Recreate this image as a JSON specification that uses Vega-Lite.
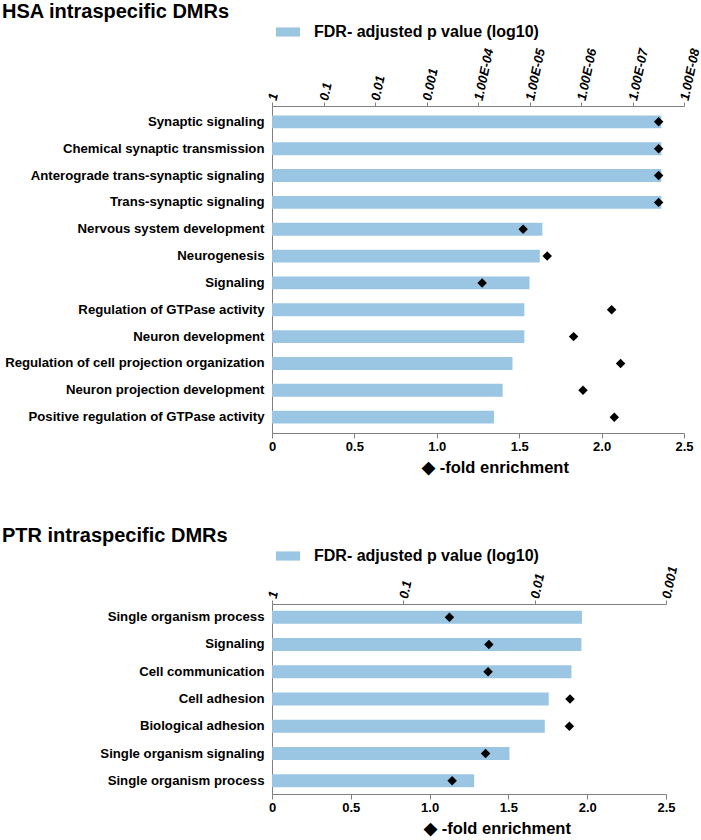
{
  "$schema": "https://vega.github.io/schema/vega-lite/v6.json",
  "padding": {"left": 2, "top": 2, "right": 0, "bottom": 0},
  "config": {
    "font": "Liberation Sans",
    "view": {"stroke": null},
    "axis": {"domainColor": "#808080", "tickColor": "#808080", "grid": false, "labelColor": "#000", "labelFont": "Liberation Sans", "titleFont": "Liberation Sans", "titleColor": "#000"},
    "concat": {"spacing": 50}
  },
  "datasets": {
    "hsa": [
      {"k": "01|Synaptic signaling", "nlp": 7.56, "fold": 2.346},
      {"k": "02|Chemical synaptic transmission", "nlp": 7.56, "fold": 2.346},
      {"k": "03|Anterograde trans-synaptic signaling", "nlp": 7.56, "fold": 2.346},
      {"k": "04|Trans-synaptic signaling", "nlp": 7.56, "fold": 2.346},
      {"k": "05|Nervous system development", "nlp": 5.25, "fold": 1.524},
      {"k": "06|Neurogenesis", "nlp": 5.2, "fold": 1.67},
      {"k": "07|Signaling", "nlp": 5.0, "fold": 1.275},
      {"k": "08|Regulation of GTPase activity", "nlp": 4.9, "fold": 2.061},
      {"k": "09|Neuron development", "nlp": 4.9, "fold": 1.83},
      {"k": "10|Regulation of cell projection organization", "nlp": 4.67, "fold": 2.115},
      {"k": "11|Neuron projection development", "nlp": 4.48, "fold": 1.887},
      {"k": "12|Positive regulation of GTPase activity", "nlp": 4.31, "fold": 2.077}
    ],
    "ptr": [
      {"k": "1|Single organism process", "nlp": 2.36, "fold": 1.126},
      {"k": "2|Signaling", "nlp": 2.356, "fold": 1.376},
      {"k": "3|Cell communication", "nlp": 2.28, "fold": 1.371},
      {"k": "4|Cell adhesion", "nlp": 2.107, "fold": 1.891},
      {"k": "5|Biological adhesion", "nlp": 2.077, "fold": 1.887},
      {"k": "6|Single organism signaling", "nlp": 1.808, "fold": 1.355},
      {"k": "7|Single organism process", "nlp": 1.539, "fold": 1.143}
    ]
  },
  "vconcat": [
    {
      "title": {"text": "HSA intraspecific DMRs", "anchor": "start", "frame": "group", "dx": -270, "fontSize": 20, "fontWeight": "bold", "color": "#000", "offset": 2},
      "width": 412,
      "height": 327,
      "data": {"name": "hsa"},
      "encoding": {
        "y": {"field": "k", "type": "nominal", "sort": null,
          "scale": {"paddingInner": 0.52, "paddingOuter": 0.35},
          "axis": {"title": null, "labelExpr": "split(datum.label,'|')[1]", "ticks": false, "labelFontSize": 13.2, "labelFontWeight": "bold", "labelPadding": 8, "labelLimit": 300, "minExtent": 270}}
      },
      "layer": [
        {
          "mark": {"type": "bar"},
          "encoding": {
            "x": {"field": "nlp", "type": "quantitative", "scale": {"domain": [0, 8], "nice": false},
              "axis": {"orient": "top", "title": null, "values": [0, 1, 2, 3, 4, 5, 6, 7, 8],
                "labelExpr": "['1','0.1','0.01','0.001','1.00E-04','1.00E-05','1.00E-06','1.00E-07','1.00E-08'][datum.value]",
                "labelAngle": -78, "labelAlign": "left", "labelBaseline": "middle", "labelFontStyle": "italic", "labelFontWeight": "bold", "labelFontSize": 13, "tickSize": 4, "labelPadding": 2, "labelFlush": false, "labelOverlap": false}},
            "color": {"datum": "FDR- adjusted p value (log10)", "type": "nominal", "scale": {"range": ["#9ac6e3"]},
              "legend": {"orient": "none", "legendX": 8, "legendY": -82, "title": null, "labelFontSize": 16, "labelFontWeight": "bold", "labelLimit": 400, "labelColor": "#000", "symbolType": "M-1.7,-0.65H1.7V0.65H-1.7Z", "symbolSize": 200, "symbolStrokeWidth": 0, "labelOffset": 18,
                "encode": {"symbols": {"update": {"fill": {"value": "#7dbcd9"}}}}}}
          }
        },
        {
          "mark": {"type": "point", "shape": "diamond", "filled": true, "color": "#000", "size": 90, "opacity": 1},
          "encoding": {
            "x": {"field": "fold", "type": "quantitative", "scale": {"domain": [0, 2.5], "nice": false},
              "axis": {"orient": "bottom", "title": "◆ -fold enrichment", "values": [0, 0.5, 1, 1.5, 2, 2.5],
                "labelExpr": "datum.value == 0 ? '0' : format(datum.value, '.1f')", "labelFontSize": 13, "labelFontWeight": "bold", "tickSize": 5, "labelFlush": false, "titleFontSize": 16.5, "titleFontWeight": "bold", "titlePadding": 6, "titleX": 223, "titleAlign": "center"}}
          }
        }
      ],
      "resolve": {"scale": {"x": "independent"}, "axis": {"x": "independent"}}
    },
    {
      "title": {"text": "PTR intraspecific DMRs", "anchor": "start", "frame": "group", "dx": -270, "fontSize": 20, "fontWeight": "bold", "color": "#000", "offset": 2},
      "width": 394,
      "height": 190,
      "data": {"name": "ptr"},
      "encoding": {
        "y": {"field": "k", "type": "nominal", "sort": null,
          "scale": {"paddingInner": 0.52, "paddingOuter": 0.245},
          "axis": {"title": null, "labelExpr": "split(datum.label,'|')[1]", "ticks": false, "labelFontSize": 13.2, "labelFontWeight": "bold", "labelPadding": 8, "labelLimit": 300, "minExtent": 270}}
      },
      "layer": [
        {
          "mark": {"type": "bar"},
          "encoding": {
            "x": {"field": "nlp", "type": "quantitative", "scale": {"domain": [0, 3], "nice": false},
              "axis": {"orient": "top", "title": null, "values": [0, 1, 2, 3],
                "labelExpr": "['1','0.1','0.01','0.001'][datum.value]",
                "labelAngle": -78, "labelAlign": "left", "labelBaseline": "middle", "labelFontStyle": "italic", "labelFontWeight": "bold", "labelFontSize": 13, "tickSize": 4, "labelPadding": 2, "labelFlush": false, "labelOverlap": false}},
            "color": {"datum": "FDR- adjusted p value (log10)", "type": "nominal", "scale": {"range": ["#9ac6e3"]},
              "legend": {"orient": "none", "legendX": 8, "legendY": -56, "title": null, "labelFontSize": 16, "labelFontWeight": "bold", "labelLimit": 400, "labelColor": "#000", "symbolType": "M-1.7,-0.65H1.7V0.65H-1.7Z", "symbolSize": 200, "symbolStrokeWidth": 0, "labelOffset": 18,
                "encode": {"symbols": {"update": {"fill": {"value": "#7dbcd9"}}}}}}
          }
        },
        {
          "mark": {"type": "point", "shape": "diamond", "filled": true, "color": "#000", "size": 90, "opacity": 1},
          "encoding": {
            "x": {"field": "fold", "type": "quantitative", "scale": {"domain": [0, 2.5], "nice": false},
              "axis": {"orient": "bottom", "title": "◆ -fold enrichment", "values": [0, 0.5, 1, 1.5, 2, 2.5],
                "labelExpr": "datum.value == 0 ? '0' : format(datum.value, '.1f')", "labelFontSize": 13, "labelFontWeight": "bold", "tickSize": 5, "labelFlush": false, "titleFontSize": 16.5, "titleFontWeight": "bold", "titlePadding": 6, "titleX": 225, "titleAlign": "center"}}
          }
        }
      ],
      "resolve": {"scale": {"x": "independent"}, "axis": {"x": "independent"}}
    }
  ],
  "resolve": {"scale": {"color": "independent"}, "legend": {"color": "independent"}}
}
